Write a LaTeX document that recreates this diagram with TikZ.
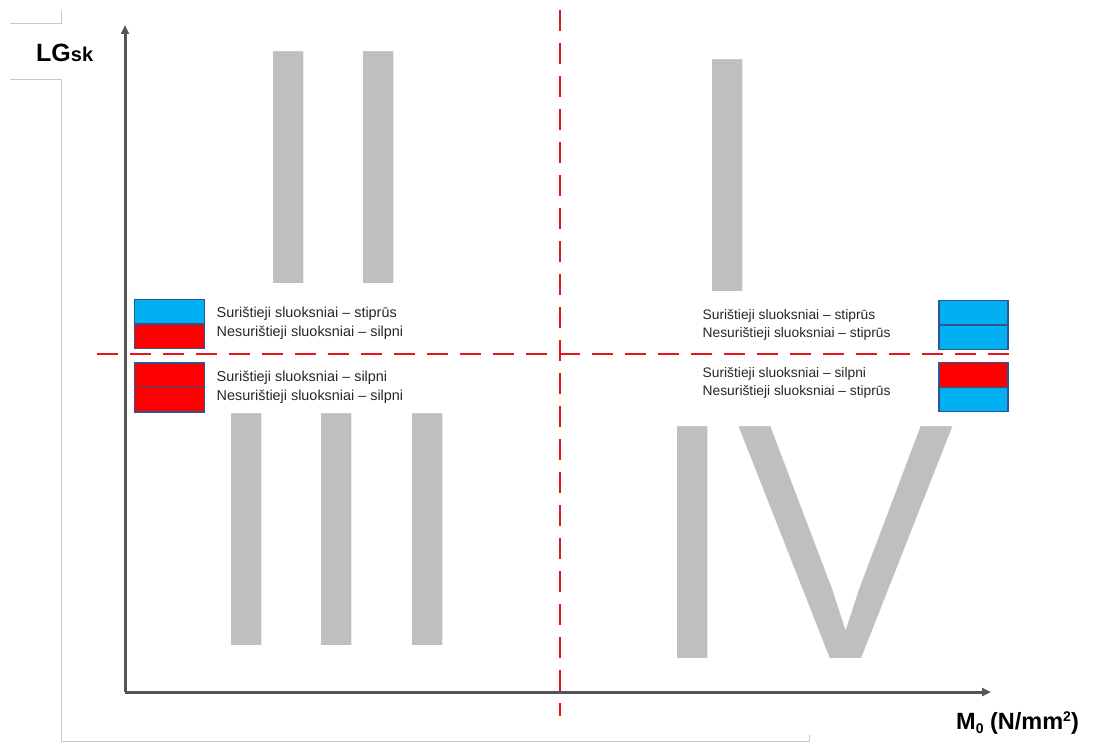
\documentclass[tikz,border=0pt]{standalone}
\usepackage{fontspec}
\setmainfont{Liberation Sans}
\usetikzlibrary{arrows.meta}
\definecolor{numgrey}{HTML}{BFBFBF}
\definecolor{axisgrey}{HTML}{555555}
\definecolor{framegrey}{HTML}{C8C8C8}
\definecolor{strongblue}{HTML}{00B0F0}
\definecolor{weakred}{HTML}{FF0000}
\definecolor{celledge}{HTML}{2F5597}
\definecolor{splitred}{HTML}{E8141B}
\newcommand{\bignum}[1]{\scalebox{0.965}[1]{#1}}
\begin{document}
\begin{tikzpicture}[x=1pt,y=-1pt,
  numeral/.style={inner sep=0pt,anchor=base west,text=numgrey,
    font=\fontsize{337}{337}\selectfont},
  axisline/.style={draw=axisgrey,line width=3pt,
    -{Triangle[length=9pt,width=8pt]}},
  splitline/.style={draw=splitred,line width=2.6pt,dash pattern=on 21pt off 12pt},
  frameline/.style={draw=framegrey,line width=1pt},
  cell/.style={draw=celledge,line width=1.3pt,minimum width=70pt,
    minimum height=24.5pt,inner sep=0pt},
  legend/.style={inner sep=0pt,anchor=west,align=left,text=black!85},
  axislabel/.style={inner sep=0pt,anchor=base west,font=\bfseries}]
\useasboundingbox (0,0) rectangle (1097,749);

% light frame fragments
\draw[frameline] (10,24) -- (61,24) -- (61,11);
\draw[frameline] (10,80) -- (61,80) -- (61,741) -- (809,741) -- (809,735);

% quadrant numerals
\node[numeral] (numII)  at (243,283) {\bignum{II}};
\node[numeral] (numI)   at (682,291) {\bignum{I}};
\node[numeral] (numIII) at (201,645) {\bignum{III}};
\node[numeral] (numIV)  at (647,658) {\bignum{IV}};

% axes
\coordinate (origin) at (125,692);
\coordinate (ytip) at (125,25);
\coordinate (xtip) at (991,692);
\draw[axisline] (origin) -- (ytip);
\draw[axisline] (origin) -- (xtip);

% quadrant separators
\coordinate (vtop) at (560,10);
\coordinate (vbot) at (560,716);
\coordinate (hleft) at (97,354);
\coordinate (hright) at (1018,354);
\draw[splitline] (vtop) -- (vbot);
\draw[splitline] (hleft) -- (hright);

% layer swatches, quadrant II and III
\node[cell,fill=strongblue] (IIa)  at (169.5,311.5) {};
\node[cell,fill=weakred]    (IIb)  at (169.5,336.5) {};
\node[cell,fill=weakred]    (IIIa) at (169.5,375.3) {};
\node[cell,fill=weakred]    (IIIb) at (169.5,399.8) {};
% layer swatches, quadrant I and IV
\node[cell,fill=strongblue,minimum width=69pt] (Ia)  at (973.5,312.5) {};
\node[cell,fill=strongblue,minimum width=69pt] (Ib)  at (973.5,337.5) {};
\node[cell,fill=weakred,minimum width=69pt]    (IVa) at (973.5,375) {};
\node[cell,fill=strongblue,minimum width=69pt] (IVb) at (973.5,399.5) {};

% legends
\node[legend,font=\fontsize{14.4}{19}\selectfont] (txtII) at (216.5,323)
  {Surištieji sluoksniai – stiprūs\\Nesurištieji sluoksniai – silpni};
\node[legend,font=\fontsize{14.4}{19}\selectfont] (txtIII) at (216.5,387)
  {Surištieji sluoksniai – silpni\\Nesurištieji sluoksniai – silpni};
\node[legend,font=\fontsize{13.8}{18}\selectfont] (txtI) at (702.5,325)
  {Surištieji sluoksniai – stiprūs\\Nesurištieji sluoksniai – stiprūs};
\node[legend,font=\fontsize{13.8}{18}\selectfont] (txtIV) at (702.5,383)
  {Surištieji sluoksniai – silpni\\Nesurištieji sluoksniai – stiprūs};

% axis labels
\node[axislabel] (ylab) at (36,62)
  {\fontsize{25}{25}\selectfont LG\fontsize{20}{20}\selectfont sk};
\node[axislabel] (xlab) at (956,729)
  {\fontsize{23.5}{23.5}\selectfont M\raisebox{-0.18em}{\fontsize{14}{14}\selectfont 0}
   (N/mm\raisebox{0.3em}{\fontsize{14}{14}\selectfont 2})};
\end{tikzpicture}
\end{document}
